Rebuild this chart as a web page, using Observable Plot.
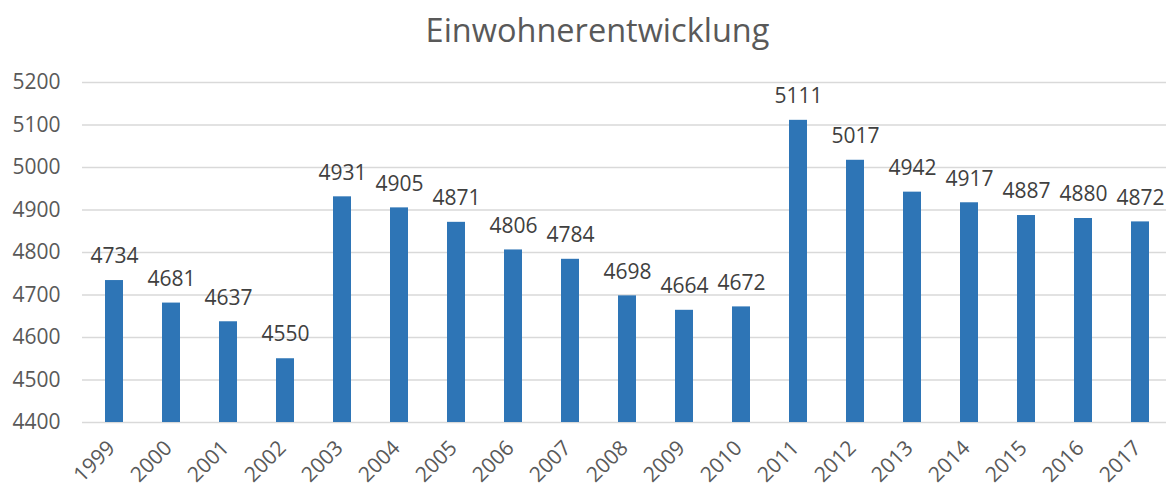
<!DOCTYPE html>
<html><head><meta charset="utf-8">
<script src="https://cdn.jsdelivr.net/npm/d3@7"></script>
<script src="https://cdn.jsdelivr.net/npm/@observablehq/plot@0.6"></script>
<style>body{margin:0;background:#fff}</style>
</head><body><div id="chart"></div>
<script>
const years = ["1999","2000","2001","2002","2003","2004","2005","2006","2007","2008","2009","2010","2011","2012","2013","2014","2015","2016","2017"];
const population = [4734,4681,4637,4550,4931,4905,4871,4806,4784,4698,4664,4672,5111,5017,4942,4917,4887,4880,4872];
const yTicks = [4400,4500,4600,4700,4800,4900,5000,5100,5200];
const title = "Einwohnerentwicklung";

const data = years.map((y, i) => ({year: y, value: population[i]}));
const font = "Open Sans, Liberation Sans, sans-serif";

const chart = Plot.plot({
  width: 1166,
  height: 486,
  marginTop: 82,
  marginBottom: 64,
  marginLeft: 82,
  marginRight: 0,
  style: {fontFamily: font, background: "#fff"},
  x: {domain: years, range: [82, 1171], paddingInner: 0.686, paddingOuter: 0.343, align: 0.5},
  y: {domain: [4400, 5200]},
  marks: [
    Plot.ruleY(yTicks, {stroke: "#D9D9D9", strokeWidth: 1.3}),
    Plot.barY(data, {x: "year", y1: 4400, y2: "value", fill: "#2E75B6"}),
    Plot.text(data, {x: "year", y: "value", text: d => String(d.value), dy: -24, fontSize: 21, fill: "#404040"}),
    Plot.axisY(yTicks, {tickSize: 0, tickPadding: 22, fontSize: 21, fill: "#595959", tickFormat: d => String(d), label: null}),
    Plot.axisX({tickSize: 0, tickRotate: -45, tickPadding: 22, dx: -3, fontSize: 21, fill: "#595959", label: null}),
    Plot.text([title], {frameAnchor: "top", dx: -27, dy: -64, fontSize: 32.5, fill: "#595959"})
  ]
});
document.getElementById("chart").appendChild(chart);
</script></body></html>
